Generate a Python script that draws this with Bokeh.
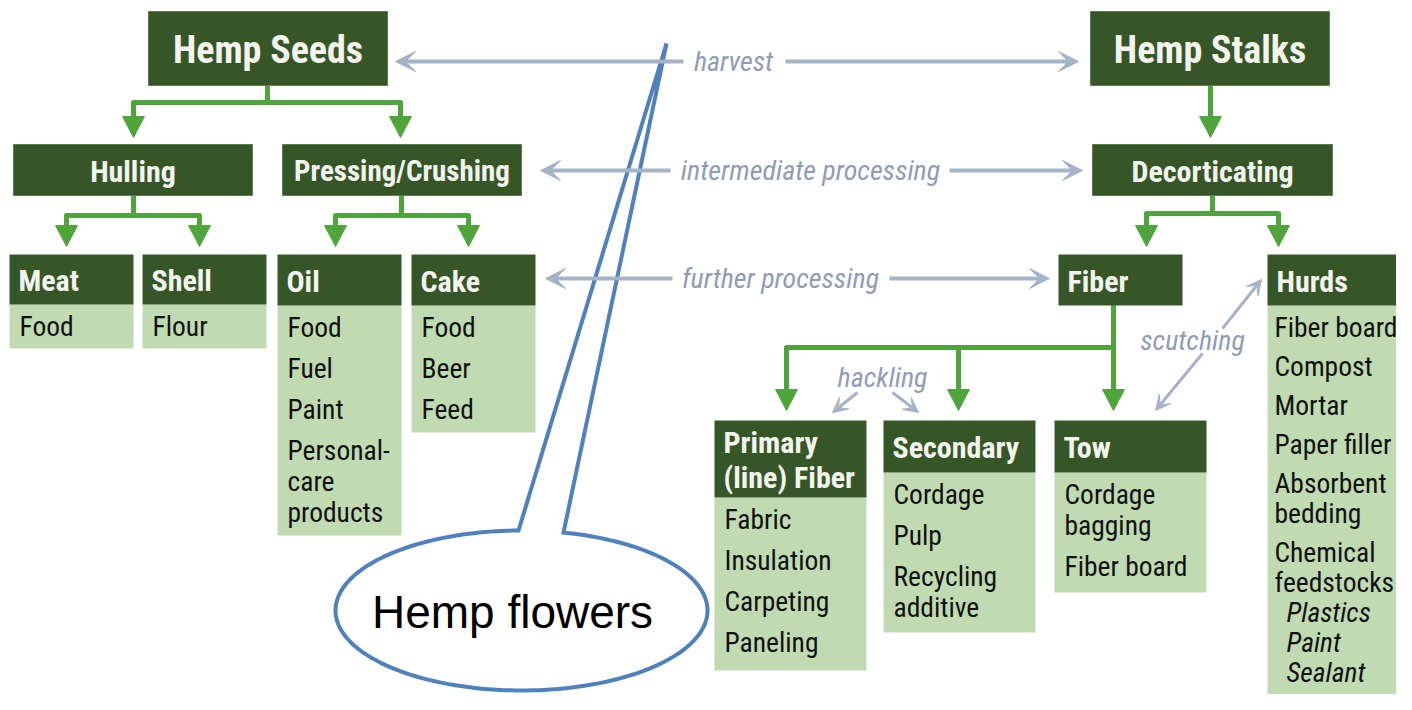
import subprocess
import numpy as np
from bokeh.plotting import figure
from bokeh.models import Range1d, Arrow, VeeHead
from bokeh.core.properties import value
from bokeh.embed import file_html
from bokeh.resources import INLINE

# ---------------- content ----------------
stage_labels = ["Hemp Seeds", "Hulling", "Pressing/Crushing", "Hemp Stalks", "Decorticating"]

product_titles = [["Meat"], ["Shell"], ["Oil"], ["Cake"], ["Fiber"], ["Hurds"],
                  ["Primary", "(line) Fiber"], ["Secondary"], ["Tow"]]
product_items = [
    [["Food"]],
    [["Flour"]],
    [["Food"], ["Fuel"], ["Paint"], ["Personal-", "care", "products"]],
    [["Food"], ["Beer"], ["Feed"]],
    [],
    [["Fiber board"], ["Compost"], ["Mortar"], ["Paper filler"],
     ["Absorbent", "bedding"], ["Chemical", "feedstocks"]],
    [["Fabric"], ["Insulation"], ["Carpeting"], ["Paneling"]],
    [["Cordage"], ["Pulp"], ["Recycling", "additive"]],
    [["Cordage", "bagging"], ["Fiber board"]],
]
hurds_sub_items = ["Plastics", "Paint", "Sealant"]
process_labels = ["harvest", "intermediate processing", "further processing"]
minor_labels = ["hackling", "scutching"]
callout_label = "Hemp flowers"

# ---------------- layout (pixel space of the picture) ----------------
stage_left = [148, 13, 282, 1090, 1092]
stage_right = [387, 252, 521, 1329, 1332]
stage_top = [11, 144, 144, 11, 144]
stage_bottom = [85, 195, 195, 85, 195]
stage_size = [38, 30, 29, 38, 30]

prod_left = [9, 142, 277, 411, 1058, 1267, 714, 883, 1054]
prod_right = [133, 266, 401, 535, 1182, 1420, 866, 1035, 1206]
prod_top = [254, 254, 254, 254, 254, 254, 420, 420, 420]
prod_head_bottom = [304, 304, 305, 305, 305, 305, 497, 472, 472]
prod_body_bottom = [348, 348, 535, 432, 305, 720, 670, 632, 592]
item_step = [41, 41, 41, 41, 41, 39, 41, 41, 41]
wrap_step = [31, 31, 31, 31, 31, 30, 31, 31, 31]
item_dx = [10, 10, 10, 10, 10, 7, 10, 10, 10]

trees = [
    (267, 85, 102, [133, 400], 137),
    (133, 195, 215, [66, 199], 246),
    (401, 195, 215, [335, 468], 246),
    (1210, 85, 110, [1210], 137),
    (1212, 195, 213, [1146, 1278], 246),
    (1113, 305, 347, [786, 958, 1113], 410),
]

gray_arrows = [
    (683, 61, 395, 61), (785, 61, 1078, 61),
    (670, 170, 540, 170), (949, 170, 1082, 170),
    (672, 278, 545, 278), (889, 278, 1049, 278),
]
small_arrows = [
    (857, 392, 832, 412), (892, 392, 918, 412),
    (1202, 353, 1155, 410), (1222, 328, 1261, 279),
]
process_pos = [(733, 61), (810, 170), (780, 278)]
minor_pos = [(882, 377), (1192, 340)]

DARK = "#375628"
LIGHT = "#c0dbb1"
GREEN = "#4fa53c"
HEAD_TXT = "#f3f4ee"
GREY = "#a5b3c8"
GREY_TXT = "#8e9db5"
BLUE = "#4f81bd"

# pick a condensed sans face that is installed
try:
    out = subprocess.run(["fc-list", ":", "family"], capture_output=True, text=True).stdout
    fams = set(f.strip() for line in out.splitlines() for f in line.split(","))
except Exception:
    fams = set()
candidates = [("Roboto Condensed", 1.0), ("Liberation Sans Narrow", 1.0),
              ("Noto Sans Condensed", 0.92), ("Open Sans Condensed", 0.92),
              ("DejaVu Sans Condensed", 0.84), ("Roboto", 0.9)]
FACE, SCALE = "Roboto", 0.9
for name, sc in candidates:
    if name in fams:
        FACE, SCALE = name, sc
        break
COND = value(FACE)


def fs(px):
    return f"{px * SCALE:.1f}px"


p = figure(width=1396, height=694, x_range=Range1d(0, 1396), y_range=Range1d(694, 0),
           output_backend="svg", toolbar_location=None, min_border=0,
           x_axis_type=None, y_axis_type=None)
p.grid.visible = False
p.outline_line_color = None
p.background_fill_color = "white"

for (xs, ys, xe, ye) in gray_arrows:
    p.add_layout(Arrow(x_start=xs, y_start=ys, x_end=xe, y_end=ye, line_color=GREY, line_width=4,
                       end=VeeHead(size=20, fill_color=GREY, line_color=GREY, line_width=1)))
for (xs, ys, xe, ye) in small_arrows:
    p.add_layout(Arrow(x_start=xs, y_start=ys, x_end=xe, y_end=ye, line_color=GREY, line_width=3,
                       end=VeeHead(size=15, fill_color=GREY, line_color=GREY, line_width=1)))

p.text([c[0] for c in process_pos], [c[1] for c in process_pos], process_labels,
       text_font=COND, text_font_style="italic", text_font_size=fs(28),
       text_color=GREY_TXT, text_align="center", text_baseline="middle")
p.text([c[0] for c in minor_pos], [c[1] for c in minor_pos], minor_labels,
       text_font=COND, text_font_style="italic", text_font_size=fs(28),
       text_color=GREY_TXT, text_align="center", text_baseline="middle")

HEAD_LEN, HEAD_HALF = 21, 11
line_xs, line_ys, tri_xs, tri_ys = [], [], [], []
for (sx, st, by, kids, tip) in trees:
    for kx in kids:
        if kx == sx:
            line_xs.append([sx, sx]); line_ys.append([st, tip - HEAD_LEN + 2])
        else:
            line_xs.append([sx, sx, kx, kx]); line_ys.append([st, by, by, tip - HEAD_LEN + 2])
        tri_xs.append([kx - HEAD_HALF, kx + HEAD_HALF, kx])
        tri_ys.append([tip - HEAD_LEN, tip - HEAD_LEN, tip])
p.multi_line(line_xs, line_ys, line_color=GREEN, line_width=5, line_join="round")
p.patches(tri_xs, tri_ys, fill_color=GREEN, line_color=GREEN, line_width=1)

p.quad(left=stage_left, right=stage_right, top=stage_top, bottom=stage_bottom,
       fill_color=DARK, line_color="#5d7a50", line_width=1)
for lab, l, r, t, b, s in zip(stage_labels, stage_left, stage_right, stage_top, stage_bottom, stage_size):
    p.text([(l + r) / 2], [(t + b) / 2 + 1], [lab], text_font=COND, text_font_style="bold",
           text_font_size=fs(s), text_color=HEAD_TXT, text_align="center", text_baseline="middle")

p.quad(left=prod_left, right=prod_right, top=prod_head_bottom, bottom=prod_body_bottom,
       fill_color=LIGHT, line_color=None)
p.quad(left=prod_left, right=prod_right, top=prod_top, bottom=prod_head_bottom,
       fill_color=DARK, line_color=None)

hx, hy, ht = [], [], []
ix, iy, it = [], [], []
for k, (titles, items) in enumerate(zip(product_titles, product_items)):
    l, t, hb = prod_left[k], prod_top[k], prod_head_bottom[k]
    mid = (t + hb) / 2 + 1
    n = len(titles)
    for j, line in enumerate(titles):
        hx.append(l + 9); hy.append(mid + (j - (n - 1) / 2) * 35); ht.append(line)
    y = hb + 22
    for item in items:
        for m, line in enumerate(item):
            ix.append(l + item_dx[k]); iy.append(y); it.append(line)
            y += wrap_step[k] if m < len(item) - 1 else item_step[k]
    if k == 5:
        y -= item_step[k] - wrap_step[k]
        subx, suby = [], []
        for s in hurds_sub_items:
            subx.append(l + 19); suby.append(y); y += wrap_step[k]
        p.text(subx, suby, hurds_sub_items, text_font=COND, text_font_style="italic",
               text_font_size=fs(27.5), text_color="#111111", text_align="left", text_baseline="middle")

p.text(hx, hy, ht, text_font=COND, text_font_style="bold", text_font_size=fs(30),
       text_color=HEAD_TXT, text_align="left", text_baseline="middle")
p.text(ix, iy, it, text_font=COND, text_font_size=fs(27.5),
       text_color="#111111", text_align="left", text_baseline="middle")

cx, cy, a, b = 521, 610, 186, 80
tip = (666, 43)
t1 = np.arccos((518 - cx) / a)
t2 = np.arccos((563 - cx) / a) + 2 * np.pi
tt = np.linspace(t1, t2, 200)
bx = list(cx + a * np.cos(tt)) + [tip[0]]
by_ = list(cy - b * np.sin(tt)) + [tip[1]]
p.patch(bx, by_, fill_color="white", line_color=BLUE, line_width=4, line_join="miter")
p.text([512], [611], [callout_label], text_font=value("Liberation Sans"), text_font_size="46px",
       text_color="black", text_align="center", text_baseline="middle")

open("out.html", "w").write(file_html(p, INLINE))
